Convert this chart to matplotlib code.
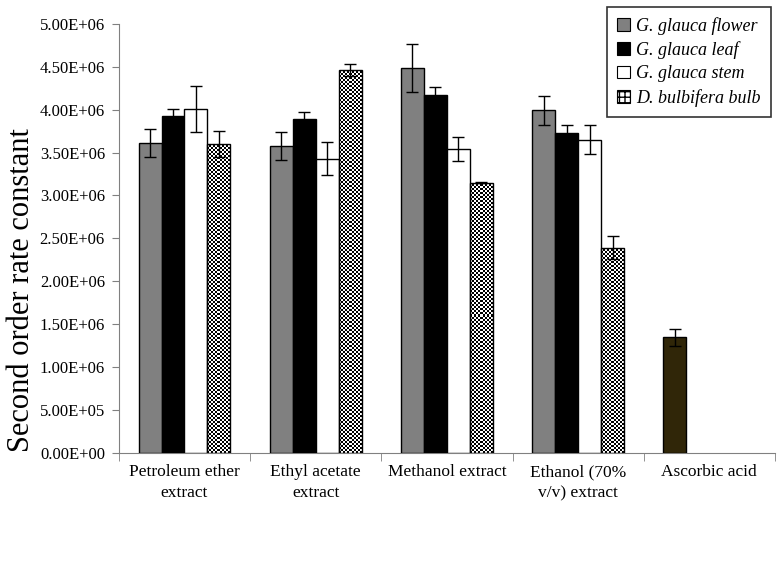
import matplotlib.pyplot as plt
import numpy as np
from matplotlib.ticker import FuncFormatter, MultipleLocator, FixedLocator
from matplotlib.patches import Patch

plt.rcParams['font.family'] = ['Liberation Serif', 'DejaVu Serif']
plt.rcParams['hatch.linewidth'] = 1.0

# data
categories = ["Petroleum ether\nextract", "Ethyl acetate\nextract", "Methanol extract",
              "Ethanol (70%\nv/v) extract", "Ascorbic acid"]
series_names = ["G. glauca flower", "G. glauca leaf", "G. glauca stem", "D. bulbifera bulb"]

flower = [3.61e6, 3.58e6, 4.48e6, 3.99e6]
flower_err = [0.16e6, 0.165e6, 0.28e6, 0.165e6]
leaf = [3.92e6, 3.89e6, 4.17e6, 3.73e6]
leaf_err = [0.09e6, 0.08e6, 0.09e6, 0.09e6]
stem = [4.01e6, 3.43e6, 3.54e6, 3.65e6]
stem_err = [0.27e6, 0.19e6, 0.14e6, 0.165e6]
bulb = [3.60e6, 4.46e6, 3.15e6, 2.39e6]
bulb_err = [0.15e6, 0.07e6, 0.01e6, 0.135e6]

ascorbic = 1.35e6
ascorbic_err = 0.1e6

fig = plt.figure(figsize=(7.82, 5.65), dpi=100)
ax = fig.add_axes([0.152, 0.198, 0.839, 0.760])
ax.set_xlim(-0.5, 4.5)
ax.set_ylim(0, 5e6)

x = np.arange(4)
w = 0.175
offsets = [-1.5 * w, -0.5 * w, 0.5 * w, 1.5 * w]
colors = ["#808080", "#000000", "#ffffff", "none"]
vals = [flower, leaf, stem, bulb]
errs = [flower_err, leaf_err, stem_err, bulb_err]
ekw = dict(ecolor="black", elinewidth=1.0, capsize=4, capthick=1.0, zorder=5)

bars = []
for i in range(4):
    b = ax.bar(x + offsets[i], vals[i], w, yerr=errs[i], color=colors[i],
               edgecolor="black", linewidth=1.0, error_kw=ekw, zorder=3)
    bars.append(b)

# checkerboard fill for the bulb series (2 px cells)
fig.canvas.draw()
for patch in bars[3].patches:
    x0, y0 = patch.get_x(), patch.get_y()
    x1, y1 = x0 + patch.get_width(), y0 + patch.get_height()
    p0 = ax.transData.transform((x0, y0))
    p1 = ax.transData.transform((x1, y1))
    nx = max(1, int(round((p1[0] - p0[0]) / 2)))
    ny = max(1, int(round((p1[1] - p0[1]) / 2)))
    ii, jj = np.indices((ny, nx))
    board = (ii + jj) % 2
    im = ax.imshow(board, cmap="gray", extent=(x0, x1, y0, y1), aspect="auto",
                   interpolation="nearest", zorder=2, origin="lower")
    im.set_clip_path(patch)
ax.set_xlim(-0.5, 4.5)
ax.set_ylim(0, 5e6)

# ascorbic acid reference bar
ax.bar([4 + offsets[0]], [ascorbic], w, yerr=[ascorbic_err], color="#302608",
       edgecolor="black", linewidth=1.0, error_kw=ekw, zorder=3)

ax.yaxis.set_major_locator(MultipleLocator(5e5))
ax.yaxis.set_major_formatter(FuncFormatter(lambda v, p: f"{v:.2E}"))

ax.set_xticks(np.arange(5))
ax.set_xticklabels(categories, fontsize=12.5, linespacing=1.4)
ax.tick_params(axis="x", which="major", length=0, pad=8)
ax.xaxis.set_minor_locator(FixedLocator(np.arange(-0.5, 5.0, 1.0)))
ax.tick_params(axis="x", which="minor", length=6, color="#808080")
ax.tick_params(axis="y", labelsize=12, length=5, color="#808080", pad=5)

for s in ["top", "right"]:
    ax.spines[s].set_visible(False)
for s in ["left", "bottom"]:
    ax.spines[s].set_color("#808080")

ax.set_ylabel("Second order rate constant", fontsize=22)
ax.yaxis.set_label_coords(-0.127, 0.38)

handles = [Patch(facecolor=colors[0], edgecolor="black", linewidth=0.8),
           Patch(facecolor=colors[1], edgecolor="black", linewidth=0.8),
           Patch(facecolor=colors[2], edgecolor="black", linewidth=0.8),
           Patch(facecolor="white", edgecolor="black", hatch="+++", linewidth=0.8)]
leg = fig.legend(handles=handles, labels=series_names, loc="upper right",
                 bbox_to_anchor=(0.997, 1.004),
                 prop=dict(family="Liberation Serif", style="italic", size=13),
                 frameon=True, fancybox=False, edgecolor="black", handlelength=0.7,
                 handleheight=0.7, handletextpad=0.35, labelspacing=0.36, borderpad=0.55)
leg.get_frame().set_linewidth(1.2)

fig.savefig("out.png", dpi=100)
